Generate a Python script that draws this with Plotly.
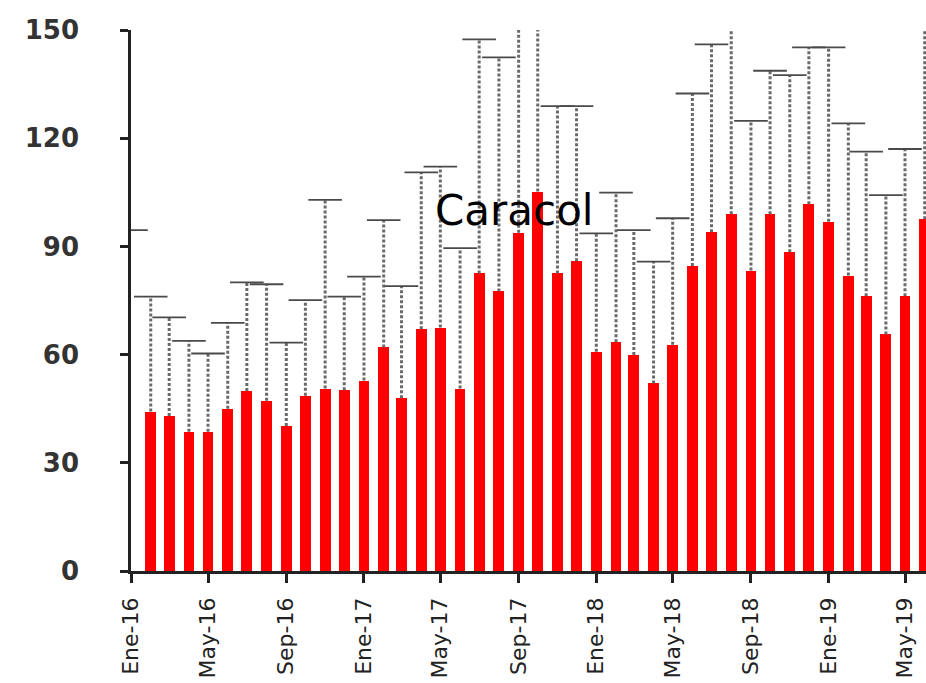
import plotly.graph_objects as go

# ---- data ----
months = [
    "2016-01-01", "2016-02-01", "2016-03-01", "2016-04-01", "2016-05-01", "2016-06-01",
    "2016-07-01", "2016-08-01", "2016-09-01", "2016-10-01", "2016-11-01", "2016-12-01",
    "2017-01-01", "2017-02-01", "2017-03-01", "2017-04-01", "2017-05-01", "2017-06-01",
    "2017-07-01", "2017-08-01", "2017-09-01", "2017-10-01", "2017-11-01", "2017-12-01",
    "2018-01-01", "2018-02-01", "2018-03-01", "2018-04-01", "2018-05-01", "2018-06-01",
    "2018-07-01", "2018-08-01", "2018-09-01", "2018-10-01", "2018-11-01", "2018-12-01",
    "2019-01-01", "2019-02-01", "2019-03-01", "2019-04-01", "2019-05-01", "2019-06-01",
]
values = [
    None, 44.2, 43.0, 38.6, 38.6, 45.0,
    49.9, 47.2, 40.2, 48.6, 50.6, 50.1,
    52.8, 62.0, 47.9, 67.0, 67.5, 50.6,
    82.5, 77.5, 93.8, 105.2, 82.5, 85.9,
    60.8, 63.4, 59.9, 52.0, 62.7, 84.6,
    93.9, 98.9, 83.3, 98.9, 88.4, 101.7,
    96.8, 81.9, 76.2, 65.6, 76.2, 97.5,
]
upper = [
    94.5, 76.1, 70.3, 63.8, 60.3, 68.8,
    80.0, 79.5, 63.3, 75.1, 102.9, 76.1,
    81.6, 97.3, 79.0, 110.5, 112.1, 89.5,
    147.4, 142.4, 165.0, 170.0, 128.9, 128.9,
    93.6, 104.9, 94.5, 85.8, 97.8, 132.4,
    146.0, 160.0, 124.8, 138.7, 137.5, 145.2,
    145.2, 124.1, 116.3, 104.2, 117.0, 165.0,
]
tick_dates = ["2016-01-01", "2016-05-01", "2016-09-01", "2017-01-01", "2017-05-01",
              "2017-09-01", "2018-01-01", "2018-05-01", "2018-09-01", "2019-01-01",
              "2019-05-01"]
tick_labels = ["Ene-16", "May-16", "Sep-16", "Ene-17", "May-17", "Sep-17",
               "Ene-18", "May-18", "Sep-18", "Ene-19", "May-19"]
y_ticks = [0, 30, 60, 90, 120, 150]
title_text = "Caracol"

# ---- build error segments from data ----
seg_x, seg_y = [], []
for m, v, u in zip(months, values, upper):
    if v is None:
        continue
    seg_x += [m, m, None]
    seg_y += [v, u, None]

DAY = 86400000
fig = go.Figure()
fig.add_trace(go.Bar(
    x=months, y=values, width=17 * DAY,
    marker=dict(color="#ff0000", line=dict(width=0)),
    hoverinfo="x+y",
))
fig.add_trace(go.Scatter(
    x=seg_x, y=seg_y, mode="lines",
    line=dict(color="#6a6a6a", width=3, dash="3px,2px"),
    hoverinfo="skip",
))
fig.add_trace(go.Scatter(
    x=months, y=upper, mode="markers",
    marker=dict(symbol="line-ew", size=24, color="#4a4a4a",
                line=dict(color="#4a4a4a", width=1.8)),
    cliponaxis=True, hoverinfo="skip",
))

fig.add_annotation(
    text=title_text, xref="paper", yref="paper", x=0.482, y=0.667,
    showarrow=False, font=dict(family="DejaVu Sans", size=42, color="#000000"),
    xanchor="center", yanchor="middle",
)

fig.update_layout(
    width=926, height=683,
    margin=dict(l=131, r=0, t=30, b=112),
    paper_bgcolor="white", plot_bgcolor="white",
    showlegend=False, bargap=0,
)
fig.update_xaxes(
    type="date", range=["2016-01-01", "2019-06-03"],
    tickvals=tick_dates, ticktext=tick_labels, tickangle=-90,
    showgrid=False, zeroline=False, automargin=False,
    showline=True, linecolor="#222222", linewidth=2.5,
    ticks="outside", ticklen=9, tickwidth=2.5, tickcolor="#222222",
    tickfont=dict(family="DejaVu Sans", size=22, color="#222222"),
    ticklabelstandoff=6,
)
fig.update_yaxes(
    range=[0, 150], tickvals=y_ticks,
    showgrid=False, zeroline=False, automargin=False,
    showline=True, linecolor="#222222", linewidth=2.5,
    ticks="outside", ticklen=8, tickwidth=2.5, tickcolor="#222222",
    tickfont=dict(family="DejaVu Sans", size=26, color="#333333", weight="bold"),
    ticklabelstandoff=36,
)

fig.write_html(
    "out.html",
    config={"displayModeBar": False},
    post_script="document.body.style.margin='0';document.body.style.overflow='hidden';",
)
